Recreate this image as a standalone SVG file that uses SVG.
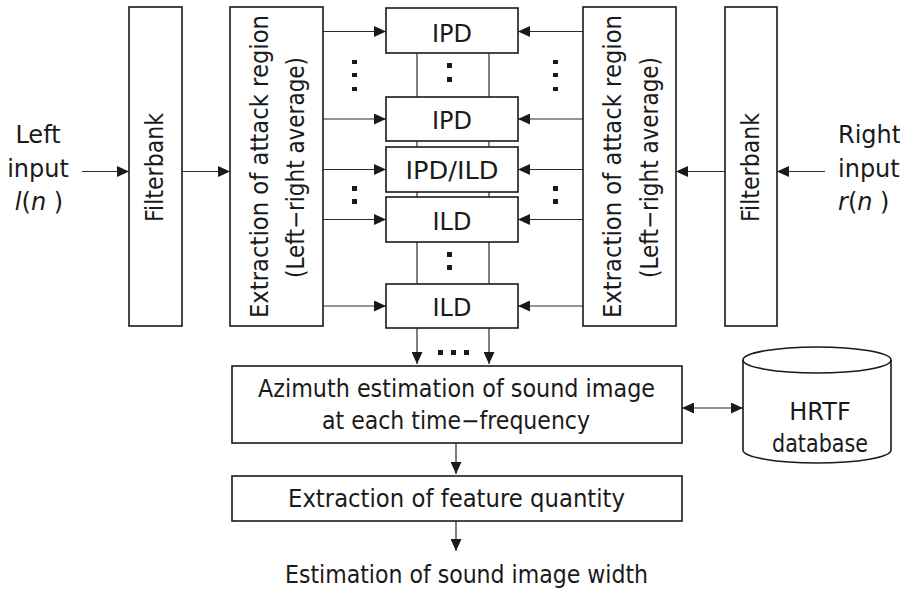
<svg xmlns="http://www.w3.org/2000/svg" width="900" height="591" viewBox="0 0 900 591">
<defs>
<style>
.box{fill:#fff;stroke:#1a1a1a;stroke-width:1.6}
.ln{fill:none;stroke:#2a2a2a;stroke-width:1.2}
.t{font-family:"DejaVu Sans","Liberation Sans",sans-serif;font-size:24px;fill:#1a1a1a}
.c{text-anchor:middle}
.dot{fill:#1a1a1a}
</style>
<marker id="ah" viewBox="0 0 12 11" refX="12" refY="5.5" markerWidth="12" markerHeight="11" markerUnits="userSpaceOnUse" orient="auto-start-reverse">
<path d="M0,0 L12,5.5 L0,11 z" fill="#1a1a1a"/>
</marker>
</defs>
<rect width="900" height="591" fill="#fff"/>

<g id="connectors">
<line class="ln" x1="82" y1="171.5" x2="129" y2="171.5" marker-end="url(#ah)"/>
<line class="ln" x1="182" y1="171.5" x2="230" y2="171.5" marker-end="url(#ah)"/>
<line class="ln" x1="825" y1="171.5" x2="777" y2="171.5" marker-end="url(#ah)"/>
<line class="ln" x1="725" y1="171.5" x2="676" y2="171.5" marker-end="url(#ah)"/>
<line class="ln" x1="323" y1="31.5" x2="386" y2="31.5" marker-end="url(#ah)"/>
<line class="ln" x1="323" y1="119" x2="386" y2="119" marker-end="url(#ah)"/>
<line class="ln" x1="323" y1="169.5" x2="386" y2="169.5" marker-end="url(#ah)"/>
<line class="ln" x1="323" y1="219.5" x2="386" y2="219.5" marker-end="url(#ah)"/>
<line class="ln" x1="323" y1="306" x2="386" y2="306" marker-end="url(#ah)"/>
<line class="ln" x1="583" y1="31.5" x2="518" y2="31.5" marker-end="url(#ah)"/>
<line class="ln" x1="583" y1="119" x2="518" y2="119" marker-end="url(#ah)"/>
<line class="ln" x1="583" y1="169.5" x2="518" y2="169.5" marker-end="url(#ah)"/>
<line class="ln" x1="583" y1="219.5" x2="518" y2="219.5" marker-end="url(#ah)"/>
<line class="ln" x1="583" y1="306" x2="518" y2="306" marker-end="url(#ah)"/>
<line class="ln" x1="417" y1="53" x2="417" y2="364" marker-end="url(#ah)"/>
<line class="ln" x1="489" y1="53" x2="489" y2="364" marker-end="url(#ah)"/>
<line class="ln" x1="456" y1="443" x2="456" y2="474" marker-end="url(#ah)"/>
<line class="ln" x1="456" y1="521" x2="456" y2="551" marker-end="url(#ah)"/>
<line class="ln" x1="682" y1="408" x2="743" y2="408" marker-start="url(#ah)" marker-end="url(#ah)"/>
</g>

<g id="left-input">
<text class="t c" x="38" y="143">Left</text>
<text class="t c" x="38" y="177">input</text>
<text class="t c" x="39" y="210"><tspan font-style="italic">l</tspan>(<tspan font-style="italic">n</tspan> )</text>
</g>

<g id="right-input">
<text class="t" x="838" y="143">Right</text>
<text class="t" x="838" y="177">input</text>
<text class="t" x="838" y="210"><tspan font-style="italic">r</tspan>(<tspan font-style="italic">n</tspan> )</text>
</g>

<g id="filterbank-left">
<rect class="box" x="129" y="7" width="53" height="319"/>
<text class="t c" transform="translate(163,167.5) rotate(-90)" textLength="109" lengthAdjust="spacingAndGlyphs">Filterbank</text>
</g>

<g id="extraction-left">
<rect class="box" x="230" y="7" width="93" height="319"/>
<text class="t c" transform="translate(268,166.5) rotate(-90)" textLength="303" lengthAdjust="spacingAndGlyphs">Extraction of attack region</text>
<text class="t c" transform="translate(304,167.5) rotate(-90)" textLength="221" lengthAdjust="spacingAndGlyphs">(Left−right average)</text>
</g>

<g id="extraction-right">
<rect class="box" x="583" y="7" width="93" height="319"/>
<text class="t c" transform="translate(621,166.5) rotate(-90)" textLength="303" lengthAdjust="spacingAndGlyphs">Extraction of attack region</text>
<text class="t c" transform="translate(658,167.5) rotate(-90)" textLength="221" lengthAdjust="spacingAndGlyphs">(Left−right average)</text>
</g>

<g id="filterbank-right">
<rect class="box" x="725" y="7" width="52" height="319"/>
<text class="t c" transform="translate(759,167.5) rotate(-90)" textLength="109" lengthAdjust="spacingAndGlyphs">Filterbank</text>
</g>

<g id="ipd1">
<rect class="box" x="386" y="8" width="132" height="45"/>
<text class="t c" x="452" y="41.5">IPD</text>
</g>
<g id="ipd2">
<rect class="box" x="386" y="97" width="132" height="44"/>
<text class="t c" x="452" y="128.5">IPD</text>
</g>
<g id="ipd-ild">
<rect class="box" x="386" y="147" width="132" height="45"/>
<text class="t c" x="452" y="179" textLength="93" lengthAdjust="spacingAndGlyphs">IPD/ILD</text>
</g>
<g id="ild1">
<rect class="box" x="386" y="197" width="132" height="45"/>
<text class="t c" x="452" y="229.5">ILD</text>
</g>
<g id="ild2">
<rect class="box" x="386" y="284" width="132" height="44"/>
<text class="t c" x="452" y="315.5">ILD</text>
</g>

<g id="ellipsis-dots">
<rect class="dot" x="352" y="60" width="5" height="4"/>
<rect class="dot" x="352" y="73" width="5" height="4"/>
<rect class="dot" x="352" y="87" width="5" height="4"/>
<rect class="dot" x="553" y="60" width="5" height="4"/>
<rect class="dot" x="553" y="73" width="5" height="4"/>
<rect class="dot" x="553" y="87" width="5" height="4"/>
<rect class="dot" x="447" y="63" width="5" height="5"/>
<rect class="dot" x="447" y="77" width="5" height="5"/>
<rect class="dot" x="352" y="186" width="5" height="5"/>
<rect class="dot" x="352" y="199" width="5" height="5"/>
<rect class="dot" x="553" y="186" width="5" height="5"/>
<rect class="dot" x="553" y="199" width="5" height="5"/>
<rect class="dot" x="447" y="252" width="5" height="5"/>
<rect class="dot" x="447" y="265" width="5" height="5"/>
<rect class="dot" x="438" y="350" width="5" height="5"/>
<rect class="dot" x="451" y="350" width="5" height="5"/>
<rect class="dot" x="464" y="350" width="5" height="5"/>
</g>

<g id="azimuth">
<rect class="box" x="232" y="366" width="450" height="77"/>
<text class="t c" x="456.5" y="397" textLength="397" lengthAdjust="spacingAndGlyphs">Azimuth estimation of sound image</text>
<text class="t c" x="456" y="429" textLength="268" lengthAdjust="spacingAndGlyphs">at each time−frequency</text>
</g>

<g id="hrtf">
<path class="box" d="M743,360 A74,13 0 0 1 891,360 L891,450 A74,13 0 0 1 743,450 Z"/>
<path class="box" style="fill:none" d="M743,360 A74,13 0 0 0 891,360"/>
<text class="t c" x="820" y="420">HRTF</text>
<text class="t c" x="820" y="452" textLength="96" lengthAdjust="spacingAndGlyphs">database</text>
</g>

<g id="feature">
<rect class="box" x="232" y="476" width="450" height="45"/>
<text class="t c" x="456.5" y="507" textLength="337" lengthAdjust="spacingAndGlyphs">Extraction of feature quantity</text>
</g>

<g id="output">
<text class="t c" x="466.5" y="583" textLength="363" lengthAdjust="spacingAndGlyphs">Estimation of sound image width</text>
</g>
</svg>
